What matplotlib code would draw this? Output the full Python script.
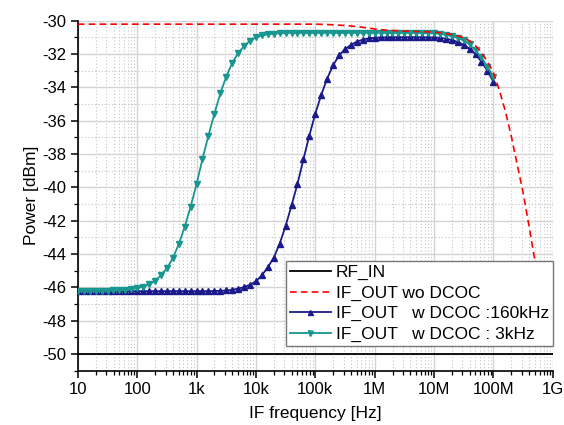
#!/usr/bin/env python

import numpy as np
import matplotlib
matplotlib.use("Agg")
import matplotlib.pyplot as plt
from matplotlib.ticker import LogLocator, NullFormatter, MultipleLocator

plt.rcParams['font.family'] = ['Liberation Sans', 'DejaVu Sans']
plt.rcParams['axes.unicode_minus'] = False

# sample points of the measured curves, 10 per decade
freq = np.logspace(1, 8, 71)          # 10 Hz .. 100 MHz, markers
freq_wo = np.logspace(1, 8.8, 79)     # 10 Hz .. ~630 MHz, dashed curve

rf_in = [-50.0, -50.0]
rf_in_freq = [10, 1e9]

# IF_OUT wo DCOC (dB), 1.0 .. 8.8 in log10(f)
if_wo = [-30.20] * 41 + [
    -30.21, -30.22, -30.24, -30.26, -30.28, -30.31, -30.35, -30.39, -30.44, -30.49,
    -30.53, -30.56, -30.58, -30.60, -30.62, -30.63, -30.64, -30.65, -30.66, -30.68,
    -30.71, -30.76, -30.82, -30.90, -31.02, -31.20, -31.50, -31.90, -32.45, -33.10,
    -34.15, -35.40, -36.90, -38.60, -40.30, -42.30, -44.40, -46.60]

# IF_OUT w DCOC 160kHz, 1.0 .. 8.0
if_160k = [
    -46.23, -46.23, -46.23, -46.23, -46.23, -46.23, -46.23, -46.23, -46.23, -46.23,
    -46.23, -46.23, -46.23, -46.23, -46.23, -46.23, -46.23, -46.23, -46.23, -46.23,
    -46.23, -46.23, -46.23, -46.22, -46.21, -46.19,
    -46.15, -46.08, -45.99, -45.85, -45.64, -45.28, -44.80, -44.22, -43.38, -42.32,
    -41.08, -39.80, -38.32, -36.89, -35.58, -34.45, -33.47, -32.67, -32.08, -31.70,
    -31.45, -31.25, -31.13, -31.06, -31.02, -31.00, -30.99, -30.98, -30.98, -30.98,
    -30.98, -30.98, -30.98, -30.99, -31.00, -31.02, -31.07, -31.15, -31.27, -31.44,
    -31.67, -32.01, -32.45, -33.00, -33.65]

# IF_OUT w DCOC 3kHz, 1.0 .. 8.0
if_3k = [
    -46.22, -46.22, -46.22, -46.21, -46.21, -46.20, -46.19, -46.18, -46.16,
    -46.12, -46.05, -45.96, -45.83, -45.62, -45.28, -44.86, -44.25, -43.41, -42.37,
    -41.16, -39.80, -38.29, -36.89, -35.58, -34.36, -33.35, -32.53, -31.93, -31.52,
    -31.20, -31.00, -30.88, -30.81, -30.77, -30.75,
    -30.73, -30.72, -30.72, -30.72, -30.72, -30.72, -30.72, -30.72, -30.72, -30.72,
    -30.72, -30.72, -30.72, -30.72, -30.72, -30.72, -30.72, -30.72, -30.72, -30.72,
    -30.72, -30.72, -30.72, -30.72,
    -30.73, -30.74, -30.78, -30.83, -30.92, -31.03, -31.18, -31.42, -31.78, -32.20,
    -32.75, -33.35]

xtick_vals = [1e1, 1e2, 1e3, 1e4, 1e5, 1e6, 1e7, 1e8, 1e9]
xtick_labels = ['10', '100', '1k', '10k', '100k', '1M', '10M', '100M', '1G']
ytick_vals = list(range(-50, -29, 2))

fig = plt.figure(figsize=(5.64, 4.25), dpi=100)
ax = fig.add_axes([0.138, 0.128, 0.842, 0.823])

ax.plot(rf_in_freq, rf_in, color='black', lw=1.3, label='RF_IN', zorder=3)
ax.plot(freq_wo, if_wo, color='#ff0000', lw=1.2, dashes=(4, 2.5),
        label='IF_OUT wo DCOC', zorder=5)
ax.plot(freq, if_160k, color='#1a1a8a', lw=1.3, marker='^', ms=4.5,
        label='IF_OUT   w DCOC :160kHz', zorder=3)
ax.plot(freq, if_3k, color='#18968f', lw=1.3, marker='v', ms=4.5,
        label='IF_OUT   w DCOC : 3kHz', zorder=4)

ax.set_xscale('log')
ax.set_xlim(10, 1e9)
ax.set_ylim(-51, -30)

ax.set_xticks(xtick_vals, xtick_labels)
ax.xaxis.set_minor_locator(LogLocator(base=10, subs=np.arange(2, 10), numticks=20))
ax.xaxis.set_minor_formatter(NullFormatter())
ax.set_yticks(ytick_vals, [str(v) for v in ytick_vals])
ax.yaxis.set_minor_locator(MultipleLocator(1))

ax.grid(which='major', color='#d4d4d4', lw=1.0, ls='-')
ax.grid(which='minor', color='#c4c4c4', lw=0.8, ls=(0, (1, 2)))
ax.set_axisbelow(True)

for s in ['top', 'right']:
    ax.spines[s].set_visible(False)
for s in ['left', 'bottom']:
    ax.spines[s].set_linewidth(1.2)
ax.tick_params(which='major', direction='out', length=5, width=1.1, labelsize=12)
ax.tick_params(which='minor', direction='out', length=3, width=0.9)

ax.set_xlabel('IF frequency [Hz]', fontsize=12.5, labelpad=6)
ax.set_ylabel('Power [dBm]', fontsize=12.5, labelpad=2)

leg = ax.legend(loc='upper right', bbox_to_anchor=(1.0, 0.313), borderaxespad=0,
                fontsize=12.5, frameon=True, fancybox=False, handlelength=2.4,
                handletextpad=0.25, labelspacing=0.3, borderpad=0.22,
                markerscale=0.8)
leg.get_frame().set_edgecolor('#777777')
leg.get_frame().set_linewidth(1.0)
leg.get_frame().set_alpha(1)
leg.set_zorder(10)

plt.savefig('out.png', dpi=100)
